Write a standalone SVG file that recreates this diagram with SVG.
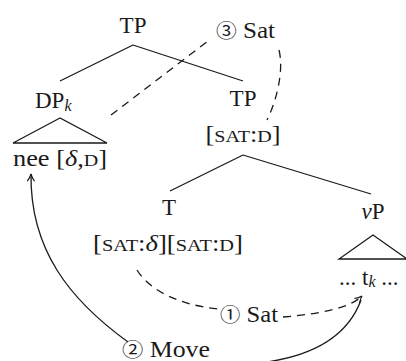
<svg xmlns="http://www.w3.org/2000/svg" width="406" height="361" viewBox="0 0 406 361">
<defs>
<style>
text{font-family:"Liberation Serif","Noto Sans CJK JP",serif;font-size:23px;fill:#1a1a1a}
.sc{font-size:17.5px}
.it{font-style:italic}
.sub{font-style:italic;font-size:16px}
.num{font-size:19px}
.tree{stroke:#1a1a1a;stroke-width:1.3;fill:none}
.dash{stroke:#1a1a1a;stroke-width:1.3;fill:none;stroke-dasharray:8 6}
.arr{stroke:#1a1a1a;stroke-width:1.3;fill:none}
</style>
<marker id="ah" viewBox="0 0 10 10" refX="9" refY="5" markerWidth="9" markerHeight="9" orient="auto" markerUnits="userSpaceOnUse">
<path d="M1,1 Q5,4 9,5 Q5,6 1,9" fill="none" stroke="#1a1a1a" stroke-width="1.3"/>
</marker>
</defs>
<g id="tp-top"><text x="133" y="33" text-anchor="middle">TP</text></g>
<g id="dp"><text x="35" y="108">DP<tspan class="sub" dy="3">k</tspan></text>
<path class="tree" d="M60,118 L13,143 L107,143 Z"/>
<text x="13" y="166" textLength="94" lengthAdjust="spacingAndGlyphs">nee [<tspan class="it">δ</tspan>,<tspan class="sc">D</tspan>]</text></g>
<g id="tp-mid"><text x="243" y="106" text-anchor="middle">TP</text>
<text x="243" y="142" text-anchor="middle" textLength="75" lengthAdjust="spacingAndGlyphs">[<tspan class="sc">SAT</tspan>:<tspan class="sc">D</tspan>]</text></g>
<g id="t"><text x="169" y="215" text-anchor="middle">T</text>
<text x="168" y="251" text-anchor="middle" textLength="150" lengthAdjust="spacingAndGlyphs">[<tspan class="sc">SAT</tspan>:<tspan class="it">δ</tspan>][<tspan class="sc">SAT</tspan>:<tspan class="sc">D</tspan>]</text></g>
<g id="vp"><text x="373" y="219" text-anchor="middle"><tspan class="it">v</tspan>P</text>
<path class="tree" d="M373,235 L339,259 L407,259 Z"/>
<text x="339" y="285">... t<tspan class="sub" dy="2">k</tspan><tspan dy="-2"> ...</tspan></text></g>
<g id="lbl-sat3"><text x="216" y="38" textLength="59" lengthAdjust="spacingAndGlyphs"><tspan class="num">③</tspan> Sat</text></g>
<g id="lbl-sat1"><text x="220" y="322" textLength="58" lengthAdjust="spacingAndGlyphs"><tspan class="num">①</tspan> Sat</text></g>
<g id="lbl-move"><text x="122" y="357" textLength="88" lengthAdjust="spacingAndGlyphs"><tspan class="num">②</tspan> Move</text></g>
<g id="connectors">
<path class="tree" d="M133,45 L60,81 M133,45 L243,81"/>
<path class="tree" d="M243,155 L170,191 M243,155 L371,194"/>
<path class="dash" d="M111,115 L208,41"/>
<path class="dash" d="M279,50 C284,70 277,100 267,120"/>
<path class="dash" d="M137,270 C150,291 180,305 218,309"/>
<path class="dash" d="M283,317 C320,314 350,308 362,296" marker-end="url(#ah)"/>
<path class="arr" d="M361,300 C350,330 320,358 250,364"/>
<path class="arr" d="M128,342 C70,300 30,250 31,174" marker-end="url(#ah)"/>
</g>
</svg>
